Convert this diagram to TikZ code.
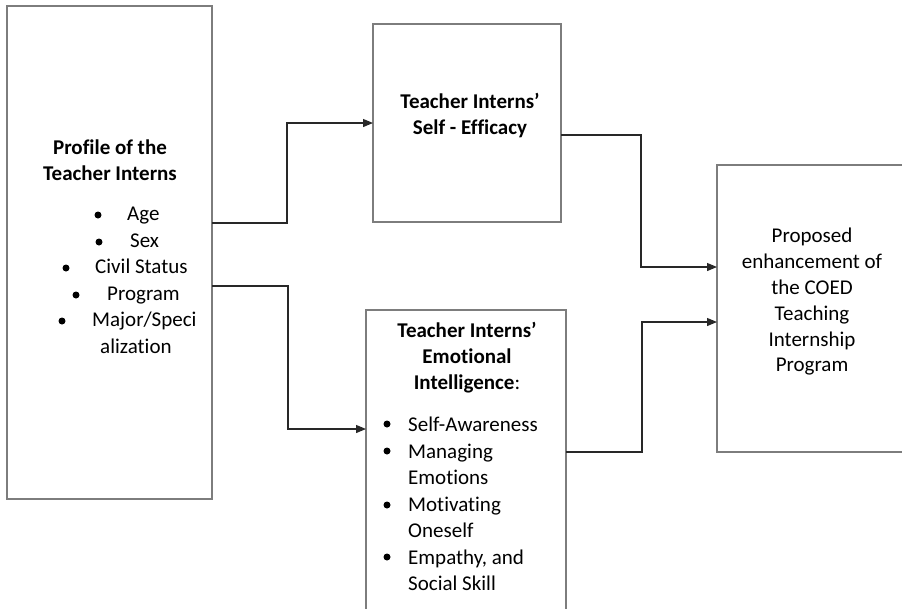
\documentclass[tikz,border=0pt]{standalone}
\usepackage{fontspec}
\setmainfont[Ligatures=NoCommon]{Carlito}
\usetikzlibrary{arrows.meta}
\definecolor{boxgray}{RGB}{125,125,125}
\definecolor{linegray}{RGB}{40,40,40}
\begin{document}
\begin{tikzpicture}[x=1pt,y=-1pt,
  frame/.style={draw=boxgray, line width=1.6pt, rectangle, inner sep=0pt, outer sep=0pt, fill=white},
  conn/.style={draw=linegray, line width=1.2pt, -{Triangle[length=10pt,width=8pt]}},
  txt/.style={font=\fontsize{21}{25.8}\selectfont, inner sep=0pt, align=center},
  ttl/.style={txt, font=\fontsize{21}{25.8}\selectfont\bfseries},
  item/.style={font=\fontsize{21}{25.8}\selectfont, inner sep=0pt, anchor=west, text height=18pt, text depth=7.8pt},
  multi/.style={font=\fontsize{21}{25.8}\selectfont, inner sep=0pt, anchor=west, align=left},
  dot/.style={circle, fill=black, inner sep=0pt, minimum size=7pt}]
\useasboundingbox (0,0) rectangle (902,608);
\clip (0,0) rectangle (902,608);

% boxes
\node[frame, minimum width=205pt, minimum height=493pt] (profile) at (109.5,252.5) {};
\node[frame, minimum width=188pt, minimum height=198pt] (selfeff) at (467,123) {};
\node[frame, minimum width=200pt, minimum height=310pt] (ei) at (466,465) {};
\node[frame, minimum width=190pt, minimum height=287pt] (proposed) at (812,308.5) {};

% profile of the teacher interns
\node[ttl] (ptitle) at (110,160.5) {Profile of the\\Teacher Interns};
\node[dot] (pb1) at (98,215) {};
\node[item] (pi1) at (127,215) {Age};
\node[dot] (pb2) at (99,242) {};
\node[item] (pi2) at (130,242) {Sex};
\node[dot] (pb3) at (66,268) {};
\node[item] (pi3) at (95,268) {Civil Status};
\node[dot] (pb4) at (76,295) {};
\node[item] (pi4) at (107,295) {Program};
\node[dot] (pb5) at (62,321) {};
\node[item] (pi5) at (92,321) {Major/Speci};
\node[item] (pi6) at (100,348) {alization};

% self-efficacy
\node[ttl] (stitle) at (470,115.5) {Teacher Interns’\\Self - Efficacy};

% emotional intelligence
\node[txt] (etitle) at (467,357.5) {\textbf{Teacher Interns’}\\\textbf{Emotional}\\\textbf{Intelligence}:};
\node[dot] (eb1) at (387,424) {};
\node[multi] (ei1) at (408,424) {Self-Awareness};
\node[dot] (eb2) at (387,451) {};
\node[multi] (ei2) at (408,464.5) {Managing\\Emotions};
\node[dot] (eb3) at (387,505) {};
\node[multi] (ei3) at (408,517.5) {Motivating\\Oneself};
\node[dot] (eb4) at (387,557) {};
\node[multi] (ei4) at (408,570) {Empathy, and\\Social Skill};

% proposed enhancement
\node[txt] (ptext) at (812,302) {Proposed\\enhancement of\\the COED\\Teaching\\Internship\\Program};

% connectors
\coordinate (j1) at (287,223);
\coordinate (j2) at (288,286);
\coordinate (a2) at (366,429);
\coordinate (k1) at (641,135);
\coordinate (k2) at (717,267);
\coordinate (m1) at (642,452);
\coordinate (m2) at (717,322);
\draw[conn] (profile.east |- j1) -- (j1) |- (selfeff.west);
\draw[conn] (profile.east |- j2) -- (j2) |- (ei.west |- a2);
\draw[conn] (selfeff.east |- k1) -- (k1) |- (proposed.west |- k2);
\draw[conn] (ei.east |- m1) -- (m1) |- (proposed.west |- m2);
\end{tikzpicture}
\end{document}
